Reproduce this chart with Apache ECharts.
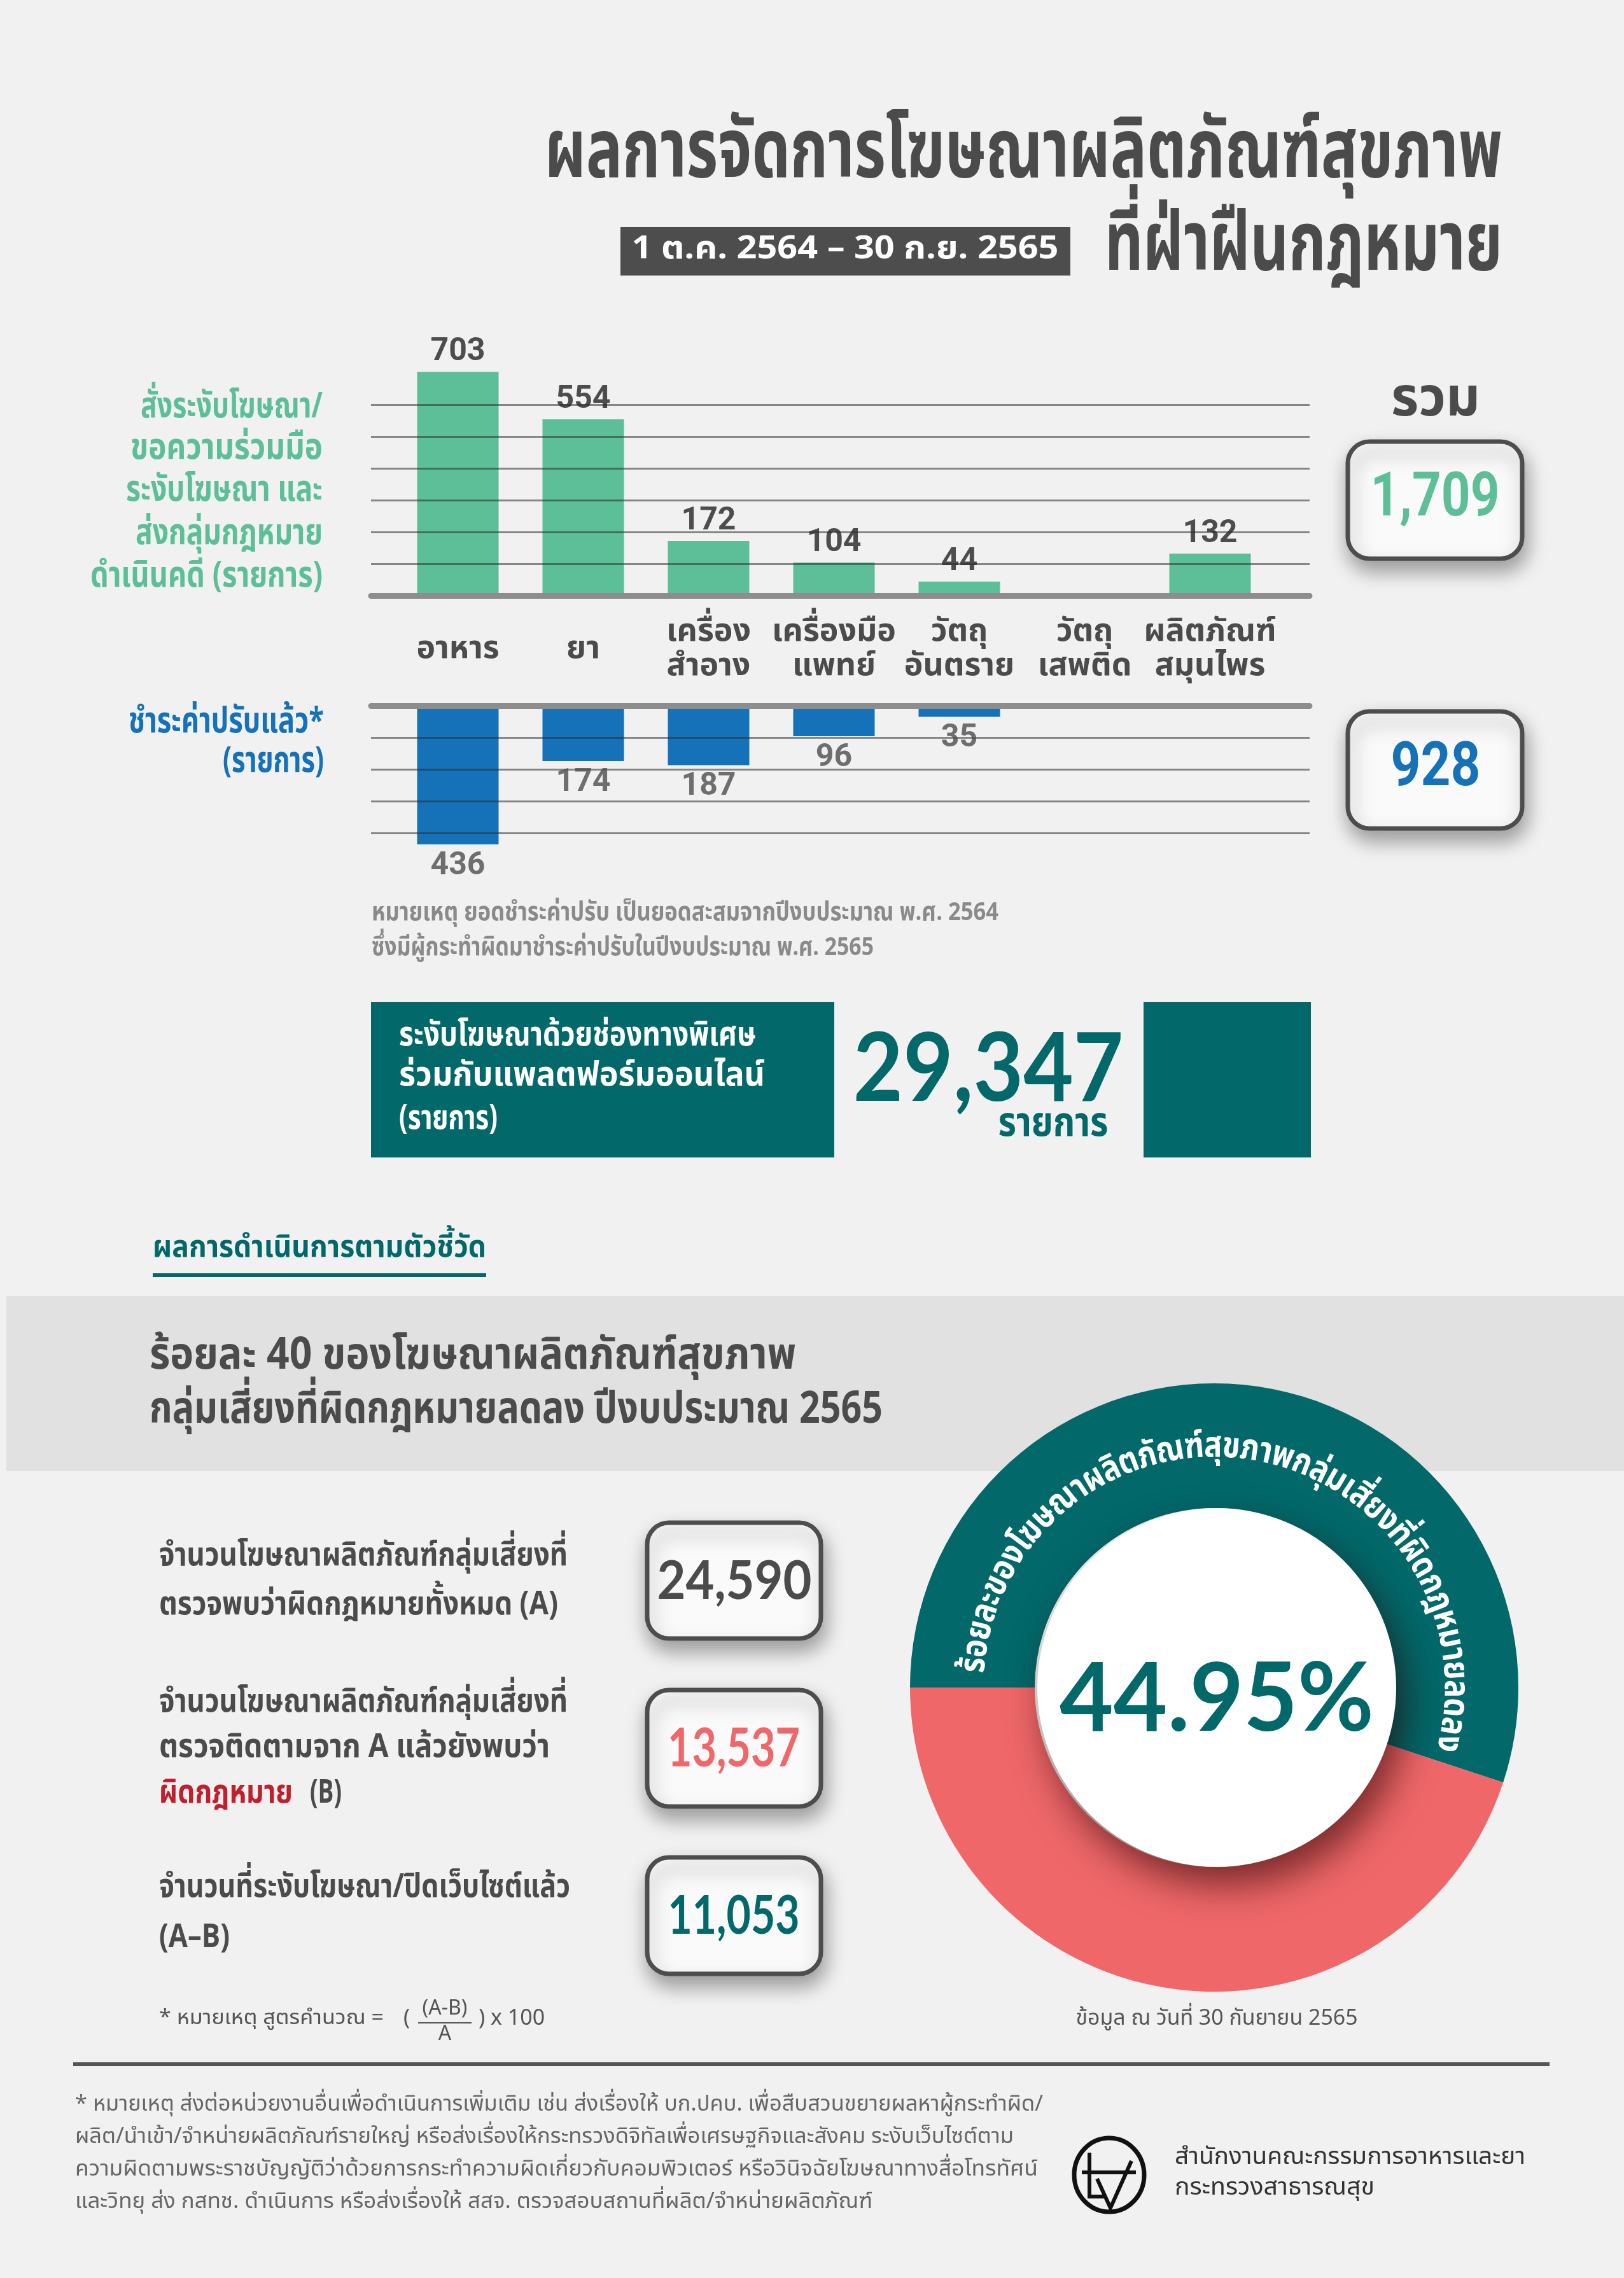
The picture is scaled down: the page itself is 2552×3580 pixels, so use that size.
<!DOCTYPE html>
<html><head><meta charset="utf-8">
<script src="https://cdn.jsdelivr.net/npm/echarts@6/dist/echarts.min.js"></script>
<style>html,body{margin:0;padding:0;background:#f1f1f1}#c{width:2552px;height:3580px}</style>
</head><body><div id="c"></div><script>
// ---------------- DATA ----------------
const categories = ['อาหาร', 'ยา', 'เครื่อง\nสำอาง', 'เครื่องมือ\nแพทย์', 'วัตถุ\nอันตราย', 'วัตถุ\nเสพติด', 'ผลิตภัณฑ์\nสมุนไพร'];
const orderedCounts = [703, 554, 172, 104, 44, null, 132];   // สั่งระงับโฆษณา/...ดำเนินคดี
const paidCounts = [436, 174, 187, 96, 35, null, null];       // ชำระค่าปรับแล้ว
const orderedTotal = '1,709';
const paidTotal = '928';
const specialChannelTotal = '29,347';
const indicatorValues = ['24,590', '13,537', '11,053'];       // A, B, A-B
const donutNames = ['ผิดกฎหมาย (B)', 'ระงับโฆษณา/ปิดเว็บไซต์ (A–B)'];
const donutValues = [13537, 11053];
const percentLabel = '44.95%';
const gridTicksTop = [0, 600, 100];    // min, max, interval of guide lines (top chart)
const gridTicksBottom = [0, 400, 100]; // min, max, interval of guide lines (bottom chart)

// ---------------- STYLE HELPERS ----------------
const THAI = "'Noto Sans Thai','Noto Sans Thai UI','Loma','Garuda','Laksaman','Noto Sans',sans-serif";
const NUM = "'Lato','Noto Sans','Open Sans',sans-serif";
const NARROW = "'Liberation Sans Narrow','Roboto','Noto Sans',sans-serif";
const GREEN = '#5cbf97', BLUE = '#1571b8', TEAL = '#02686a', RED = '#ef6769', DARK = '#4b4b4b';
const mctx = document.createElement('canvas').getContext('2d');
function measure(text, font) { mctx.font = font; return mctx.measureText(text).width; }
function T(text, x, y, o) {
  const fam = o.family || THAI, wt = o.weight || 'bold';
  const font = wt + ' ' + o.size + 'px ' + fam;
  let sx = 1;
  if (o.w) sx = o.w / measure(text, font);
  return { type: 'text', x: x, y: y, scaleX: sx, z: o.z || 50, silent: true,
    style: { text: text, fill: o.color || DARK, font: font, textAlign: o.align || 'left', align: o.align || 'left',
      textVerticalAlign: o.va || 'middle', verticalAlign: o.va || 'middle' } };
}
function box(x, y, w, h) {
  return { type: 'rect', z: 40, silent: true, shape: { x: x, y: y, width: w, height: h, r: 34 },
    style: { fill: '#fafafa', stroke: '#4d4d4d', lineWidth: 7, shadowBlur: 30, shadowOffsetY: 16, shadowOffsetX: 4, shadowColor: 'rgba(0,0,0,0.35)' } };
}
function arcText(text, cx, cy, r, a0, a1, size, color) {
  const segs = (Intl && Intl.Segmenter) ? Array.from(new Intl.Segmenter('th', { granularity: 'grapheme' }).segment(text), s => s.segment) : Array.from(text);
  const font = 'bold ' + size + 'px ' + THAI;
  const ws = segs.map(s => measure(s, font));
  const W = ws.reduce((a, b) => a + b, 0);
  const L = (a0 - a1) * Math.PI / 180 * r;
  const k = L / W;
  let acc = 0; const els = [];
  segs.forEach((g, i) => {
    const mid = (acc + ws[i] / 2) * k; acc += ws[i];
    const th = a0 * Math.PI / 180 - mid / r;
    els.push({ type: 'text', silent: true, x: cx + r * Math.cos(th), y: cy - r * Math.sin(th), rotation: th - Math.PI / 2, scaleX: k, z: 70,
      style: { text: g, font: font, fill: color, textAlign: 'center', align: 'center', textVerticalAlign: 'middle', verticalAlign: 'middle' } });
  });
  return els;
}

// ---------------- GRAPHICS (text & decoration) ----------------
const G = [];
// title
G.push(T('ผลการจัดการโฆษณาผลิตภัณฑ์สุขภาพ', 2361, 252, { size: 130, align: 'right', w: 1505 }));
G.push({ type: 'rect', z: 40, silent: true, shape: { x: 975, y: 357, width: 707, height: 76 }, style: { fill: '#4d4d4d' } });
G.push(T('1 ต.ค. 2564 – 30 ก.ย. 2565', 1328, 396, { size: 50, align: 'center', w: 671, color: '#ffffff' }));
G.push(T('ที่ฝ่าฝืนกฎหมาย', 2361, 398, { size: 130, align: 'right', w: 625 }));
// left labels top chart
const gl = [['สั่งระงับโฆษณา/', 645, 286], ['ขอความร่วมมือ', 710, 302], ['ระงับโฆษณา และ', 776, 309], ['ส่งกลุ่มกฎหมาย', 844, 294], ['ดำเนินคดี (รายการ)', 911, 365]];
gl.forEach(l => G.push(T(l[0], 507, l[1], { size: 56, align: 'right', w: l[2], color: GREEN })));
G.push(T('ชำระค่าปรับแล้ว*', 509, 1140, { size: 56, align: 'right', w: 307, color: BLUE }));
G.push(T('(รายการ)', 509, 1202, { size: 56, align: 'right', w: 159, color: BLUE }));
// totals
G.push(T('รวม', 2256, 636, { size: 86, align: 'center', w: 140, color: DARK }));
G.push(box(2118, 694, 274, 184));
G.push(T(orderedTotal, 2255, 786, { size: 96, align: 'center', w: 203, color: GREEN, family: NARROW, z: 45 }));
G.push(box(2118, 1118, 274, 184));
G.push(T(paidTotal, 2256, 1210, { size: 96, align: 'center', w: 141, color: BLUE, family: NARROW, z: 45 }));
// note
G.push(T('หมายเหตุ ยอดชำระค่าปรับ เป็นยอดสะสมจากปีงบประมาณ พ.ศ. 2564', 584, 1438, { size: 40, w: 985, color: '#8a8a8a' }));
G.push(T('ซึ่งมีผู้กระทำผิดมาชำระค่าปรับในปีงบประมาณ พ.ศ. 2565', 584, 1493, { size: 40, w: 789, color: '#8a8a8a' }));
// special channel block
G.push({ type: 'rect', z: 40, silent: true, shape: { x: 583, y: 1575, width: 728, height: 244 }, style: { fill: TEAL } });
G.push({ type: 'rect', z: 40, silent: true, shape: { x: 1797, y: 1575, width: 263, height: 244 }, style: { fill: TEAL } });
G.push(T('ระงับโฆษณาด้วยช่องทางพิเศษ', 627, 1632, { size: 54, w: 561, color: '#ffffff' }));
G.push(T('ร่วมกับแพลตฟอร์มออนไลน์', 627, 1695, { size: 54, w: 575, color: '#ffffff' }));
G.push(T('(รายการ)', 627, 1763, { size: 54, w: 155, color: '#ffffff' }));
G.push(T(specialChannelTotal, 1553, 1682, { size: 150, align: 'center', w: 425, color: TEAL, family: NUM }));
G.push(T('รายการ', 1655, 1772, { size: 64, align: 'center', w: 173, color: TEAL }));
// section heading
G.push(T('ผลการดำเนินการตามตัวชี้วัด', 240, 1965, { size: 48, w: 524, color: TEAL }));
G.push({ type: 'rect', z: 40, silent: true, shape: { x: 240, y: 2001, width: 524, height: 6 }, style: { fill: TEAL } });
// gray band
G.push({ type: 'rect', z: -10, silent: true, shape: { x: 10, y: 2037, width: 2542, height: 275 }, style: { fill: '#e1e1e1' } });
G.push(T('ร้อยละ 40 ของโฆษณาผลิตภัณฑ์สุขภาพ', 235, 2137, { size: 70, w: 1016 }));
G.push(T('กลุ่มเสี่ยงที่ผิดกฎหมายลดลง ปีงบประมาณ 2565', 235, 2222, { size: 70, w: 1152 }));
// indicator items
G.push(T('จำนวนโฆษณาผลิตภัณฑ์กลุ่มเสี่ยงที่', 250, 2449, { size: 52, w: 642 }));
G.push(T('ตรวจพบว่าผิดกฎหมายทั้งหมด (A)', 250, 2526, { size: 52, w: 627 }));
G.push(T('จำนวนโฆษณาผลิตภัณฑ์กลุ่มเสี่ยงที่', 250, 2679, { size: 52, w: 642 }));
G.push(T('ตรวจติดตามจาก A แล้วยังพบว่า', 250, 2750, { size: 52, w: 614 }));
G.push(T('ผิดกฎหมาย', 250, 2822, { size: 52, w: 210, color: '#c0202e' }));
G.push(T('(B)', 487, 2822, { size: 52, w: 50 }));
G.push(T('จำนวนที่ระงับโฆษณา/ปิดเว็บไซต์แล้ว', 250, 2970, { size: 52, w: 646 }));
G.push(T('(A–B)', 250, 3049, { size: 52, w: 111 }));
G.push(box(1017, 2393, 273, 182));
G.push(box(1017, 2656, 273, 183));
G.push(box(1017, 2919, 273, 183));
G.push(T(indicatorValues[0], 1154, 2486, { size: 84, align: 'center', w: 243, color: DARK, family: NUM, z: 45 }));
G.push(T(indicatorValues[1], 1153, 2749, { size: 84, align: 'center', w: 208, color: RED, family: NUM, z: 45 }));
G.push(T(indicatorValues[2], 1153, 3012, { size: 84, align: 'center', w: 207, color: TEAL, family: NUM, z: 45 }));
// formula
const FR = "'Noto Sans Thai','Liberation Sans','Noto Sans',sans-serif";
G.push(T('* หมายเหตุ สูตรคำนวณ =', 250, 3175, { size: 32, w: 353, weight: 'normal', family: FR, color: '#555' }));
G.push(T('(', 634, 3175, { size: 34, weight: 'normal', family: FR, color: '#555' }));
G.push(T('(A-B)', 699, 3160, { size: 32, align: 'center', weight: 'normal', family: FR, color: '#555' }));
G.push({ type: 'rect', z: 40, silent: true, shape: { x: 657, y: 3178, width: 84, height: 2 }, style: { fill: '#555' } });
G.push(T('A', 699, 3200, { size: 32, align: 'center', weight: 'normal', family: FR, color: '#555' }));
G.push(T(') x 100', 752, 3175, { size: 34, weight: 'normal', family: FR, color: '#555' }));
// donut center text & notes
G.push(T(percentLabel, 1912, 2672, { size: 150, align: 'center', w: 494, color: TEAL, family: NUM, z: 80 }));
G.push(T('ข้อมูล ณ วันที่ 30 กันยายน 2565', 1912, 3175, { size: 34, align: 'center', w: 443, weight: 'normal', family: FR, color: '#555' }));
arcText('ร้อยละของโฆษณาผลิตภัณฑ์สุขภาพกลุ่มเสี่ยงที่ผิดกฎหมายลดลง', 1908, 2652, 374, 176.5, -15.5, 56, '#ffffff').forEach(e => G.push(e));
// footer
G.push({ type: 'rect', z: 40, silent: true, shape: { x: 115, y: 3241, width: 2320, height: 6 }, style: { fill: '#555' } });
const foot = [['* หมายเหตุ ส่งต่อหน่วยงานอื่นเพื่อดำเนินการเพิ่มเติม เช่น ส่งเรื่องให้ บก.ปคบ. เพื่อสืบสวนขยายผลหาผู้กระทำผิด/', 3310, 1521],
  ['ผลิต/นำเข้า/จำหน่ายผลิตภัณฑ์รายใหญ่ หรือส่งเรื่องให้กระทรวงดิจิทัลเพื่อเศรษฐกิจและสังคม ระงับเว็บไซต์ตาม', 3361, 1475],
  ['ความผิดตามพระราชบัญญัติว่าด้วยการกระทำความผิดเกี่ยวกับคอมพิวเตอร์ หรือวินิจฉัยโฆษณาทางสื่อโทรทัศน์', 3412, 1513],
  ['และวิทยุ ส่ง กสทช. ดำเนินการ หรือส่งเรื่องให้ สสจ. ตรวจสอบสถานที่ผลิต/จำหน่ายผลิตภัณฑ์', 3463, 1253]];
foot.forEach(f => G.push(T(f[0], 118, f[1], { size: 34, w: f[2], weight: 'normal', family: FR, color: '#666' })));
G.push({ type: 'ellipse', z: 40, silent: true, shape: { cx: 1743, cy: 3418, rx: 55, ry: 58 }, style: { fill: 'none', stroke: '#111', lineWidth: 7 } });
G.push({ type: 'polyline', z: 40, silent: true, shape: { points: [[1712, 3383], [1712, 3452], [1738, 3452]] }, style: { fill: 'none', stroke: '#111', lineWidth: 6 } });
G.push({ type: 'polyline', z: 40, silent: true, shape: { points: [[1700, 3414], [1785, 3414]] }, style: { fill: 'none', stroke: '#111', lineWidth: 6 } });
G.push({ type: 'polyline', z: 40, silent: true, shape: { points: [[1724, 3424], [1745, 3470], [1778, 3396]] }, style: { fill: 'none', stroke: '#111', lineWidth: 6 } });
G.push(T('สำนักงานคณะกรรมการอาหารและยา', 1846, 3393, { size: 38, w: 551, weight: 'normal', family: FR, color: '#333' }));
G.push(T('กระทรวงสาธารณสุข', 1846, 3441, { size: 38, w: 314, weight: 'normal', family: FR, color: '#333' }));

// ---------------- CHART ----------------
const guideLine = { show: true, lineStyle: { color: 'rgba(45,45,45,0.55)', width: 3 } };
const hiddenAxis = { show: true, axisLine: { show: false }, axisTick: { show: false }, axisLabel: { show: false }, splitLine: { show: false } };
const valueLabel = { fontSize: 50, fontWeight: 'bold', color: '#4d4d4d', fontFamily: NARROW };
const option = {
  backgroundColor: '#f1f1f1',
  animation: false,
  grid: [
    { left: 583, width: 1475, top: 636, height: 300 },   // top guide lines
    { left: 621, width: 1379, top: 536, height: 400 },   // top bars
    { left: 583, width: 1475, top: 1109, height: 200 },  // bottom guide lines
    { left: 621, width: 1379, top: 1109, height: 250 }   // bottom bars
  ],
  xAxis: [
    { gridIndex: 0, type: 'category', data: categories, z: 10, axisLine: { show: true, lineStyle: { color: '#8d8d8d', width: 9 } }, axisTick: { show: false }, axisLabel: { show: false } },
    { gridIndex: 1, type: 'category', data: categories, axisLine: { show: false }, axisTick: { show: false },
      axisLabel: { interval: 0, margin: 88, verticalAlign: 'middle', fontSize: 50, fontWeight: 'bold', lineHeight: 54, color: DARK, fontFamily: THAI } },
    { gridIndex: 2, type: 'category', data: categories, position: 'top', z: 10, axisLine: { show: true, lineStyle: { color: '#8d8d8d', width: 9 } }, axisTick: { show: false }, axisLabel: { show: false } },
    Object.assign({ gridIndex: 3, type: 'category', data: categories, position: 'top' }, hiddenAxis)
  ],
  yAxis: [
    { gridIndex: 0, type: 'value', min: gridTicksTop[0], max: gridTicksTop[1], interval: gridTicksTop[2], z: 10, axisLine: { show: false }, axisTick: { show: false }, axisLabel: { show: false }, splitLine: guideLine },
    Object.assign({ gridIndex: 1, type: 'value', min: 0, max: 800 }, hiddenAxis),
    { gridIndex: 2, type: 'value', inverse: true, min: gridTicksBottom[0], max: gridTicksBottom[1], interval: gridTicksBottom[2], z: 10, axisLine: { show: false }, axisTick: { show: false }, axisLabel: { show: false }, splitLine: guideLine },
    Object.assign({ gridIndex: 3, type: 'value', inverse: true, min: 0, max: 500 }, hiddenAxis)
  ],
  series: [
    { type: 'bar', xAxisIndex: 1, yAxisIndex: 1, data: orderedCounts, barWidth: 128, silent: true, itemStyle: { color: GREEN },
      label: Object.assign({ show: true, position: 'top', distance: 6 }, valueLabel) },
    { type: 'bar', xAxisIndex: 3, yAxisIndex: 3, data: paidCounts, barWidth: 128, silent: true, itemStyle: { color: BLUE } },
    { type: 'scatter', xAxisIndex: 3, yAxisIndex: 3, data: paidCounts, symbolSize: 2, silent: true, z: 20,
      itemStyle: { color: 'rgba(0,0,0,0)' },
      label: Object.assign({ show: true, position: 'bottom', distance: 8, formatter: p => String(p.value) }, valueLabel) },
    { type: 'pie', center: [1908, 2652], radius: [282, 478], startAngle: 180, clockwise: true, silent: true, z: 5,
      label: { show: false }, labelLine: { show: false },
      data: [{ name: donutNames[0], value: donutValues[0], itemStyle: { color: TEAL } },
             { name: donutNames[1], value: donutValues[1], itemStyle: { color: RED } }] },
    { type: 'pie', center: [1912, 2652], radius: [0, 282], silent: true, z: 6, label: { show: false }, labelLine: { show: false },
      itemStyle: { color: '#ffffff', shadowBlur: 60, shadowOffsetX: 14, shadowOffsetY: 28, shadowColor: 'rgba(40,0,0,0.6)' },
      data: [{ name: 'center', value: 1 }] }
  ],
  graphic: { elements: G }
};
const chart = echarts.init(document.getElementById('c'), null, { renderer: 'canvas' });
chart.setOption(option);
</script></body></html>
